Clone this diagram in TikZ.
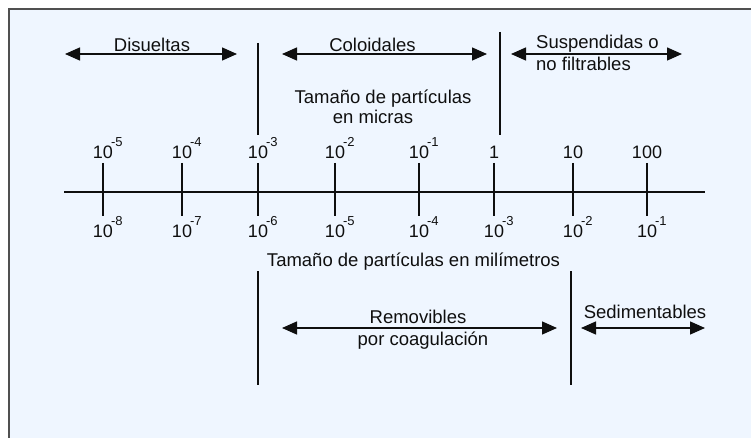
\documentclass[tikz,border=0pt]{standalone}
\usepackage{fontspec}
\setmainfont{Liberation Sans}
\usetikzlibrary{arrows.meta}
\definecolor{bgblue}{RGB}{239,246,255}
\definecolor{framegray}{RGB}{80,80,80}
\definecolor{ink}{RGB}{15,15,15}
\newcommand{\tenpow}[1]{10\rlap{\kern-2pt\raisebox{12pt}{\fontsize{13}{13}\selectfont -#1}}}
\begin{document}
\begin{tikzpicture}[x=1pt,y=-1pt,
  lbl/.style={font=\fontsize{18.5}{20}\selectfont, text=ink, inner sep=0pt, anchor=base},
  num/.style={font=\fontsize{18}{18}\selectfont, text=ink, inner sep=0pt, anchor=base},
  rulel/.style={draw=ink, line width=1.4pt},
  spanarrow/.style={draw=ink, line width=1.4pt, {Triangle[length=15pt,width=13pt]}-{Triangle[length=15pt,width=13pt]}}]
\useasboundingbox (0,0) rectangle (751,438);
\fill[white] (0,0) rectangle (751,438);
\fill[bgblue] (9,9) rectangle (751,438);
\draw[framegray, line width=1.8pt] (751,9) -- (9,9) -- (9,438);

% axis
\coordinate (axL) at (64,192);
\coordinate (axR) at (705,192);
\draw[rulel] (axL) -- (axR);

% ticks and labels
\foreach \i/\x/\top/\bot in {1/103/\tenpow{5}/\tenpow{8}, 2/182/\tenpow{4}/\tenpow{7},
  3/258/\tenpow{3}/\tenpow{6}, 4/335/\tenpow{2}/\tenpow{5}, 5/419/\tenpow{1}/\tenpow{4},
  6/494/1/\tenpow{3}, 7/573/10/\tenpow{2}, 8/647/100/\tenpow{1}} {
  \coordinate (ta\i) at (\x,163);
  \coordinate (tb\i) at (\x,216);
  \draw[rulel] (ta\i) -- (tb\i);
  \node[num] (up\i) at (\x,159) {\top};
  \node[num] (dn\i) at (\x,237) {\bot};
}

% separators
\coordinate (s1a) at (258,43);  \coordinate (s1b) at (258,135);
\coordinate (s2a) at (500,32);  \coordinate (s2b) at (500,135);
\coordinate (s3a) at (258,271); \coordinate (s3b) at (258,385);
\coordinate (s4a) at (571,271); \coordinate (s4b) at (571,385);
\draw[rulel] (s1a) -- (s1b);
\draw[rulel] (s2a) -- (s2b);
\draw[rulel] (s3a) -- (s3b);
\draw[rulel] (s4a) -- (s4b);

% range arrows
\coordinate (d1) at (65,54);   \coordinate (d2) at (237,54);
\coordinate (c1) at (282,54);  \coordinate (c2) at (487,54);
\coordinate (p1) at (511,54);  \coordinate (p2) at (682,54);
\coordinate (r1) at (282,328); \coordinate (r2) at (557,328);
\coordinate (e1) at (581,328); \coordinate (e2) at (705,328);
\draw[spanarrow] (d1) -- (d2);
\draw[spanarrow] (c1) -- (c2);
\draw[spanarrow] (p1) -- (p2);
\draw[spanarrow] (r1) -- (r2);
\draw[spanarrow] (e1) -- (e2);

% texts
\node[lbl] (disu) at (152,52) {Disueltas};
\node[lbl] (colo) at (372.5,52) {Coloidales};
\node[lbl, anchor=base west] (susp1) at (536,49) {Suspendidas o};
\node[lbl, anchor=base west] (susp2) at (536,71) {no filtrables};
\node[lbl] (mic1) at (383,104) {Tamaño de partículas};
\node[lbl] (mic2) at (373,124) {en micras};
\node[lbl] (mili) at (413.5,266) {Tamaño de partículas en milímetros};
\node[lbl] (rem1) at (418,323) {Removibles};
\node[lbl] (rem2) at (423,345) {por coagulación};
\node[lbl] (sedi) at (645,318) {Sedimentables};
\end{tikzpicture}
\end{document}
